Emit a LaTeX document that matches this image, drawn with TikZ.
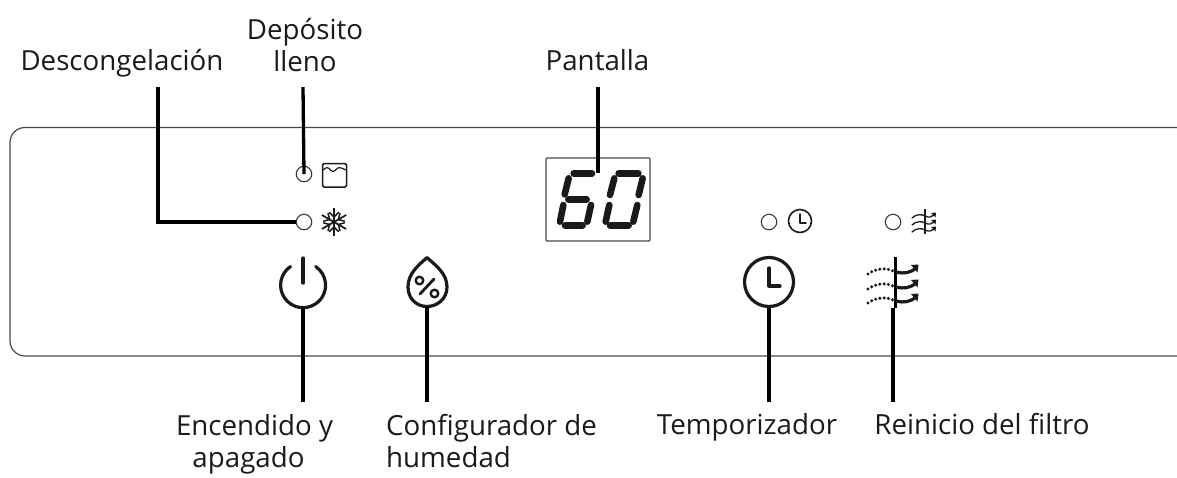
\documentclass[tikz,border=0pt]{standalone}
\usepackage{fontspec}
\setmainfont{Open Sans}
\definecolor{ink}{HTML}{1A1A1A}
\tikzset{
  lbl/.style={font=\fontsize{27.7}{32}\selectfont, text=ink, inner sep=0pt, align=center},
  lblone/.style={lbl, anchor=base},
  lblleft/.style={lbl, align=left, anchor=west},
  leader/.style={line width=3.3pt, draw=black},
  panel/.style={line width=1.2pt, draw=ink!80},
  led/.style={circle, draw=ink!85, line width=1.1pt, minimum size=15.5pt, inner sep=0pt},
  icon/.style={line width=3.2pt, draw=ink, line cap=round, line join=round},
  iconsmall/.style={line width=1.5pt, draw=ink, line cap=round, line join=round},
  seg/.style={line width=6.6pt, draw=ink, line cap=round},
  dots/.style={line width=3.4pt, draw=ink, line cap=round, dash pattern=on 0pt off 4.3pt},
}
\begin{document}
\begin{tikzpicture}[x=1pt,y=-1pt]
\useasboundingbox (0,0) rectangle (1177,477);
% panel
\draw[panel, rounded corners=15pt] (1177,127.5) -- (10,127.5) -- (10,356) -- (1177,356);
% labels
\node[lblone] (lfrost) at (122,70) {Descongelación};
\node[lbl] (ltank) at (305,45) {Depósito\\lleno};
\node[lblone] (lscreen) at (597.5,70) {Pantalla};
\node[lbl] (lpower) at (254.5,444) {Encendido y\\apagado\hspace*{12pt}};
\node[lblleft] (lhum) at (386,441) {Configurador de\\humedad};
\node[lblone] (ltimer) at (747,434) {Temporizador};
\node[lblone] (lfilter) at (982,434) {Reinicio del filtro};
% LEDs
\node[led] (ledtank) at (304,174) {};
\node[led] (ledfrost) at (304,222) {};
\node[led] (ledtimer) at (769,222) {};
\node[led] (ledfilter) at (893,222) {};
% display
\node[draw=ink!80, line width=1.2pt, rounded corners=1pt, minimum width=104pt, minimum height=83pt, inner sep=0pt] (display) at (598,199.5) {};
\begin{scope}[shift={(530,140)},x=0.3333pt,y=-0.3333pt]
  % digit 6
  \draw[seg] (131,100) -- (186,100);
  \draw[seg] (116,115) -- (104,163);
  \draw[seg] (115,178) -- (170,178);
  \draw[seg] (100,195) -- (90,245);
  \draw[seg] (183,195) -- (172,245);
  \draw[seg] (105,256) -- (158,256);
  % digit 0
  \draw[seg] (266,100) -- (325,100);
  \draw[seg] (253,115) -- (240,165);
  \draw[seg] (338,115) -- (326,165);
  \draw[seg] (238,195) -- (227,245);
  \draw[seg] (322,195) -- (310,245);
  \draw[seg] (240,256) -- (296,256);
\end{scope}
% tank icon
\draw[line width=1.5pt, draw=ink, rounded corners=1.5pt] (322.5,163.5) rectangle (346.5,187);
\draw[iconsmall, line width=1.2pt] (323,170) .. controls (326,167) and (328,167) .. (330,169.5) .. controls (332,172) and (334,172) .. (336,169.5) .. controls (338,167) and (340,167) .. (346,170);
% snowflake
\begin{scope}[shift={(334,222)}]
  \foreach \a in {30,90,150,210,270,330} {
    \begin{scope}[rotate=\a]
      \draw[iconsmall, line width=1.7pt, line cap=butt] (0,0) -- (14,0);
      \draw[iconsmall] (5,0) -- (9.5,-4.5);
      \draw[iconsmall] (5,0) -- (9.5,4.5);
    \end{scope}
  }
\end{scope}
% small clock
\node[circle, draw=ink, line width=1.6pt, minimum size=23pt, inner sep=0pt] (clocksmall) at (800,221) {};
\draw[iconsmall] (800,214) -- (800,223) -- (806,223);
% power
\node[circle, minimum size=45.5pt, inner sep=0pt] (power) at (303,285) {};
\draw[icon] (290.5,266.5) arc[start angle=236,delta angle=-292,radius=22.5];
\draw[icon] (303,258) -- (303,283);
% drop
\coordinate (drop) at (427,307);
\draw[icon] (427,257.5) .. controls (419,265) and (408,273) .. (408,287) .. controls (408,299) and (417,306.5) .. (427,306.5) .. controls (437,306.5) and (447,299) .. (447,287) .. controls (447,273) and (435,265) .. (427,257.5) -- cycle;
\draw[icon, line width=2.8pt] (420,294) -- (434,279);
\draw[icon, line width=2.4pt] (419.5,280.5) circle[radius=3.8];
\draw[icon, line width=2.4pt] (434.5,293.5) circle[radius=3.8];
% big clock
\node[circle, draw=ink, line width=3.2pt, minimum size=49pt, inner sep=0pt] (clockbig) at (769,282) {};
\draw[icon] (769,268) -- (769,286) -- (780,286);
% big filter icon
\coordinate (filterbar) at (895,308);
\draw[line width=3pt, draw=black] (895,257) -- (filterbar);
\foreach \dy in {0,15,29} {
  \begin{scope}[shift={(0,\dy)}]
    \draw[dots] (868,274) .. controls (875,269) and (885,267) .. (893,271);
    \draw[icon, line cap=butt] (896,272) .. controls (904,274) and (910,273) .. (916,268);
    \fill[ink] (911,265) -- (918.5,264.5) -- (917.5,272.5) -- cycle;
  \end{scope}
}
% small filter icon
\draw[line width=1.5pt, draw=ink] (925,209) -- (925,234);
\foreach \dy in {0,7,14} {
  \begin{scope}[shift={(0,\dy)}]
    \draw[iconsmall, line width=1.3pt] (912,218) .. controls (916,214) and (922,214) .. (925,216) .. controls (929,218) and (932,217) .. (934,215);
    \fill[ink] (931,213) -- (936,212.5) -- (935.5,217.5) -- cycle;
  \end{scope}
}
% leaders
\coordinate (atank) at (303,87);
\coordinate (afrost) at (158,87);
\coordinate (ascreen) at (598,87);
\coordinate (escreen) at (598,173);
\coordinate (bpower) at (303,402);
\coordinate (bhum) at (427,402);
\coordinate (btimer) at (769,402);
\coordinate (bfilter) at (893,402);
\draw[leader] (atank) -- (ledtank.center);
\draw[leader] (afrost) |- (ledfrost.west);
\draw[leader] (ascreen) -- (escreen);
\draw[leader] (power.south) -- (bpower);
\draw[leader] (drop) -- (bhum);
\draw[leader] (clockbig.south) -- (btimer);
\draw[leader] (filterbar -| bfilter) -- (bfilter);
\end{tikzpicture}
\end{document}
